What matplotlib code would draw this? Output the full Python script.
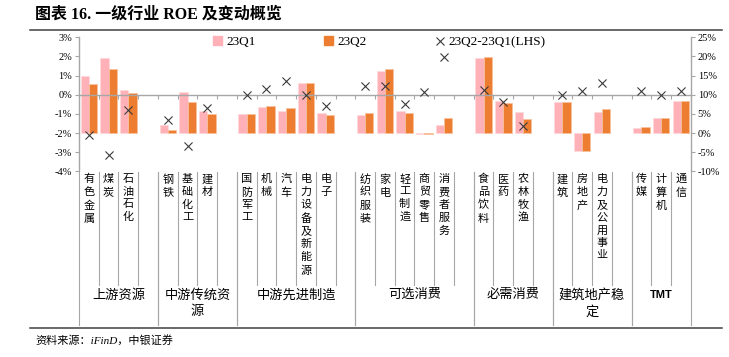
import matplotlib
matplotlib.use('Agg')
import matplotlib.pyplot as plt
import matplotlib.transforms as mtransforms
from matplotlib.lines import Line2D
from matplotlib.patches import Patch
from matplotlib.ticker import FuncFormatter
import numpy as np

plt.rcParams['font.family'] = ['Liberation Serif', 'Noto Sans CJK SC']
plt.rcParams['axes.unicode_minus'] = False

# sector groups and the sectors inside each one
groups = ['上游资源', '中游传统资\n源', '中游先进制造', '可选消费', '必需消费', '建筑地产稳\n定', 'TMT']
group_members = [
    ['有色金属', '煤炭', '石油石化'],
    ['钢铁', '基础化工', '建材'],
    ['国防军工', '机械', '汽车', '电力设备及新能源', '电子'],
    ['纺织服装', '家电', '轻工制造', '商贸零售', '消费者服务'],
    ['食品饮料', '医药', '农林牧渔'],
    ['建筑', '房地产', '电力及公用事业'],
    ['传媒', '计算机', '通信'],
]

# ROE (%), right axis
roe_q1 = [15.0, 19.6, 11.3, 2.2, 10.8, 5.8, 5.0, 6.9, 5.8, 13.0, 5.2,
          4.8, 16.3, 5.8, -0.35, 2.2, 19.6, 8.3, 5.5, 8.2, -4.7, 5.6,
          1.3, 3.9, 8.3]
roe_q2 = [12.9, 16.6, 10.5, 0.8, 8.0, 5.0, 5.0, 7.0, 6.6, 13.0, 4.7,
          5.1, 16.8, 5.2, -0.25, 4.0, 19.8, 7.9, 3.7, 8.1, -4.7, 6.2,
          1.6, 3.9, 8.4]
# 23Q2-23Q1 (pct), left axis
roe_chg = [-2.1, -3.13, -0.8, -1.3, -2.66, -0.71, -0.03, 0.28, 0.71, 0.0, -0.59,
           0.43, 0.43, -0.47, 0.16, 1.95, 0.23, -0.40, -1.63, -0.03, 0.19, 0.59,
           0.19, 0.0, 0.19]

PINK = '#FFB1B7'
ORANGE = '#ED7D31'
GRAY = '#A6A6A6'

# slot positions: every group is followed by an empty slot, except the last one
pos = []
names = []
spans = []
k = 0
for gi, members in enumerate(group_members):
    start = k
    for m in members:
        pos.append(k)
        names.append(m)
        k += 1
    if gi < len(group_members) - 1:
        k += 1
    spans.append((start - 0.5, k - 0.5))
n_slots = k
pos = np.array(pos)

fig = plt.figure(figsize=(7.29, 3.57), dpi=100)
ax = fig.add_axes([0.1084, 0.5202, 0.8391, 0.3753])
ax2 = ax.twinx()

# bars on the right axis
w = 0.42
ax2.bar(pos - w / 2, roe_q1, w, color=PINK, edgecolor='#FFD9DC', linewidth=0.5)
ax2.bar(pos + w / 2, roe_q2, w, color=ORANGE, edgecolor='#F6C29E', linewidth=0.5)
ax2.set_ylim(-10, 25)
ax2.set_yticks(range(-10, 26, 5))
ax2.yaxis.set_major_formatter(FuncFormatter(lambda v, p: f'{v:.0f}%'))

# changes on the left axis, drawn above the bars
ax.set_zorder(ax2.get_zorder() + 1)
ax.patch.set_visible(False)
ax.scatter(pos, roe_chg, marker='x', s=34, color='#3A3A3A', linewidths=0.8, zorder=5)
ax.set_ylim(-4, 3)
ax.set_yticks(range(-4, 4))
ax.yaxis.set_major_formatter(FuncFormatter(lambda v, p: f'{v:.0f}%'))
ax.set_xlim(-0.5, n_slots - 0.5)
ax.set_xticks(np.arange(n_slots + 1) - 0.5)
ax.set_xticklabels([])

for s in ['top', 'right']:
    ax.spines[s].set_visible(False)
for s in ['top', 'left', 'bottom']:
    ax2.spines[s].set_visible(False)
ax.spines['bottom'].set_position(('data', 0))
for sp in [ax.spines['bottom'], ax.spines['left'], ax2.spines['right']]:
    sp.set_color(GRAY)
    sp.set_linewidth(1.0)
ax.tick_params(axis='x', length=3, color=GRAY, direction='out')
ax.tick_params(axis='y', length=3, color=GRAY, labelsize=7.5, pad=2)
ax2.tick_params(axis='y', length=3, color=GRAY, labelsize=7.5, pad=2)

# category labels below the plot
trans = mtransforms.blended_transform_factory(ax.transData, fig.transFigure)
y_top = 1 - 172 / 357
y_short = 1 - 285 / 357
y_long = 1 - 325 / 357
for p, name in zip(pos, names):
    ax.text(p, 1 - 174 / 357, '\n'.join(name), transform=trans, ha='center', va='top',
            fontsize=8, linespacing=1.36)

for (a, b), g in zip(spans, groups):
    ax.add_line(Line2D([a, a], [y_top, y_long], transform=trans, color=GRAY, lw=0.8, clip_on=False))
    ax.add_line(Line2D([b, b], [y_top, y_long], transform=trans, color=GRAY, lw=0.8, clip_on=False))
    for x in np.arange(a + 1, b):
        ax.add_line(Line2D([x, x], [y_top, y_short], transform=trans, color=GRAY, lw=0.8, clip_on=False))
    if g == 'TMT':
        ax.text((a + b) / 2, 1 - 290 / 357, g, transform=trans, ha='center', va='top',
                fontsize=8, fontweight='bold', family='Liberation Sans')
    else:
        ax.text((a + b) / 2, 1 - 289 / 357, g, transform=trans, ha='center', va='top',
                fontsize=9.5, linespacing=1.45)

# legend
handles = [Patch(color=PINK), Patch(color=ORANGE),
           Line2D([], [], marker='x', ls='none', color='#3A3A3A', markersize=6, markeredgewidth=0.8)]
fig.legend(handles, ['23Q1', '23Q2', '23Q2-23Q1(LHS)'], loc='upper left',
           bbox_to_anchor=(213 / 729, 1 - 36 / 357), ncol=3, frameon=False, fontsize=9.5,
           handlelength=0.7, handleheight=0.7, handletextpad=0.3, columnspacing=5.2,
           borderaxespad=0, borderpad=0)

# title, rules and source
fig.text(35 / 729, 1 - 15 / 357, '图表 16. 一级行业 ROE 及变动概览', fontsize=11.5,
         fontweight='bold', va='center', ha='left')
fig.add_artist(Line2D([30 / 729, 0.99], [1 - 29.5 / 357] * 2, color='#404040', lw=1.1))
fig.add_artist(Line2D([30 / 729, 0.99], [1 - 328 / 357] * 2, color='#404040', lw=1.1))
fig.text(35 / 729, 1 - 340 / 357, '资料来源：iFinD，中银证券', fontsize=8, style='italic',
         va='center', ha='left')

fig.savefig('out.png', dpi=100)
